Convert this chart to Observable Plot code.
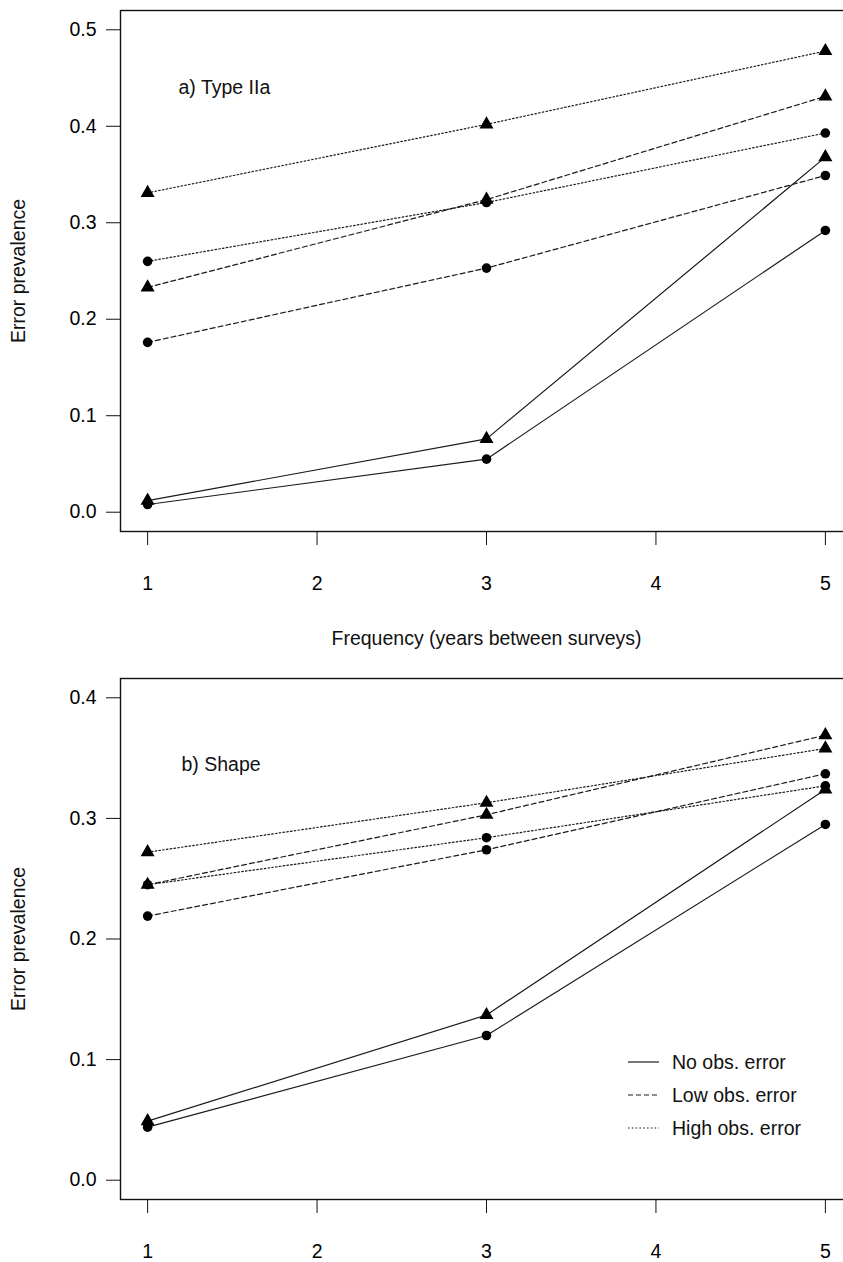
<!DOCTYPE html>
<html>
<head>
<meta charset="utf-8">
<script src="https://cdn.jsdelivr.net/npm/d3@7"></script>
<script src="https://cdn.jsdelivr.net/npm/@observablehq/plot@0.6"></script>
<style>
  html, body { margin: 0; padding: 0; background: #fff; width: 843px; height: 1262px; overflow: hidden; }
  #wrap { position: relative; width: 843px; height: 1262px; overflow: hidden; }
  #wrap > svg { display: block; max-width: none !important; height: auto; }
  .leg { position: absolute; font-family: "Liberation Sans", Arial, sans-serif; font-size: 19.5px; color: #111; display: flex; align-items: center; white-space: nowrap; }
  .leg svg { display: block; }
</style>
</head>
<body>
<div id="wrap"></div>
<script>
// ---------- data ----------
const freq = [1, 3, 5];
const xTicks = [1, 2, 3, 4, 5];
const yTicksA = [0, 0.1, 0.2, 0.3, 0.4, 0.5];
const yTicksB = [0, 0.1, 0.2, 0.3, 0.4];
const levels = ["No obs. error", "Low obs. error", "High obs. error"];
const panelLabels = ["a) Type IIa", "b) Shape"];
const yTitle = "Error prevalence";
const xTitle = "Frequency (years between surveys)";

// Panel a) Type IIa  (circle series / triangle series)
const aNoCircle     = [0.008, 0.055, 0.292];
const aNoTriangle   = [0.012, 0.076, 0.368];
const aLowCircle    = [0.176, 0.253, 0.349];
const aLowTriangle  = [0.233, 0.324, 0.431];
const aHighCircle   = [0.260, 0.321, 0.393];
const aHighTriangle = [0.331, 0.402, 0.478];

// Panel b) Shape
const bNoCircle     = [0.044, 0.120, 0.295];
const bNoTriangle   = [0.049, 0.137, 0.324];
const bLowCircle    = [0.219, 0.274, 0.337];
const bLowTriangle  = [0.245, 0.303, 0.369];
const bHighCircle   = [0.245, 0.284, 0.327];
const bHighTriangle = [0.272, 0.313, 0.358];

// ---------- build tables ----------
function buildRows(series) {
  const rows = [];
  series.forEach(([level, shape, vals]) => {
    vals.forEach((v, i) => rows.push({level, shape, freq: freq[i], value: v}));
  });
  return rows;
}
const rowsA = buildRows([
  [levels[0], "circle", aNoCircle], [levels[0], "triangle", aNoTriangle],
  [levels[1], "circle", aLowCircle], [levels[1], "triangle", aLowTriangle],
  [levels[2], "circle", aHighCircle], [levels[2], "triangle", aHighTriangle]
]);
const rowsB = buildRows([
  [levels[0], "circle", bNoCircle], [levels[0], "triangle", bNoTriangle],
  [levels[1], "circle", bLowCircle], [levels[1], "triangle", bLowTriangle],
  [levels[2], "circle", bHighCircle], [levels[2], "triangle", bHighTriangle]
]);

const FONT = '"Liberation Sans", Arial, sans-serif';
const dash = {"No obs. error": null, "Low obs. error": "5,3", "High obs. error": "1.6,2.2"};

function panel(rows, o) {
  const marks = [
    Plot.frame({stroke: "#111", strokeWidth: 1.4}),
    Plot.axisX(xTicks, {tickSize: 14, tickPadding: 31, tickFormat: d => String(d), label: null, stroke: "#111"}),
    Plot.axisY(o.yticks, {tickSize: 14, tickPadding: 10, tickFormat: d3.format(".1f"), label: null, stroke: "#111"}),
    ...levels.map(lv => Plot.line(rows.filter(r => r.level === lv), {
      x: "freq", y: "value", z: "shape", stroke: "#1a1a1a", strokeWidth: 1.2,
      strokeDasharray: dash[lv] || undefined
    })),
    Plot.dot(rows.filter(r => r.shape === "circle"), {x: "freq", y: "value", symbol: "circle", r: 4.8, fill: "#000"}),
    Plot.dot(rows.filter(r => r.shape === "triangle"), {x: "freq", y: "value", symbol: "triangle", r: 5.2, fill: "#000"}),
    Plot.text([o.label], {frameAnchor: "top-left", dx: o.labelDx, dy: o.labelDy, textAnchor: "start", lineAnchor: "middle", fill: "#111"}),
    Plot.text([yTitle], {frameAnchor: "left", dx: -102, rotate: -90, textAnchor: "middle", lineAnchor: "middle", fill: "#111"})
  ];
  if (o.xtitle) marks.push(Plot.text([o.xtitle], {frameAnchor: "bottom", dy: 107, lineAnchor: "middle", fill: "#111"}));
  return Plot.plot({
    width: 860, height: o.height,
    marginLeft: 120, marginRight: 8, marginTop: o.mt, marginBottom: o.mb,
    style: {fontFamily: FONT, fontSize: "19.5px", color: "#000", background: "#fff", overflow: "visible", maxWidth: "none"},
    x: {domain: [0.84, 5.16]},
    y: {domain: o.ydom},
    marks
  });
}

const wrap = document.getElementById("wrap");
wrap.appendChild(panel(rowsA, {height: 660, mt: 10, mb: 129, ydom: [-0.02, 0.52], yticks: yTicksA, label: panelLabels[0], labelDx: 58, labelDy: 77, xtitle: xTitle}));
wrap.appendChild(panel(rowsB, {height: 602, mt: 18, mb: 63, ydom: [-0.016, 0.416], yticks: yTicksB, label: panelLabels[1], labelDx: 61, labelDy: 86}));

// legend (bottom panel, inside the frame)
levels.forEach((lv, i) => {
  const div = document.createElement("div");
  div.className = "leg";
  div.style.left = "628px";
  div.style.top = (1062 + i * 33 - 11) + "px";
  div.style.height = "22px";
  const svgNS = "http://www.w3.org/2000/svg";
  const s = document.createElementNS(svgNS, "svg");
  s.setAttribute("width", 32); s.setAttribute("height", 22);
  const ln = document.createElementNS(svgNS, "line");
  ln.setAttribute("x1", 0); ln.setAttribute("x2", 31); ln.setAttribute("y1", 11); ln.setAttribute("y2", 11);
  ln.setAttribute("stroke", "#1a1a1a"); ln.setAttribute("stroke-width", 1.2);
  if (dash[lv]) ln.setAttribute("stroke-dasharray", dash[lv]);
  s.appendChild(ln);
  div.appendChild(s);
  const t = document.createElement("span");
  t.textContent = lv;
  t.style.marginLeft = "12px";
  div.appendChild(t);
  wrap.appendChild(div);
});
</script>
</body>
</html>
